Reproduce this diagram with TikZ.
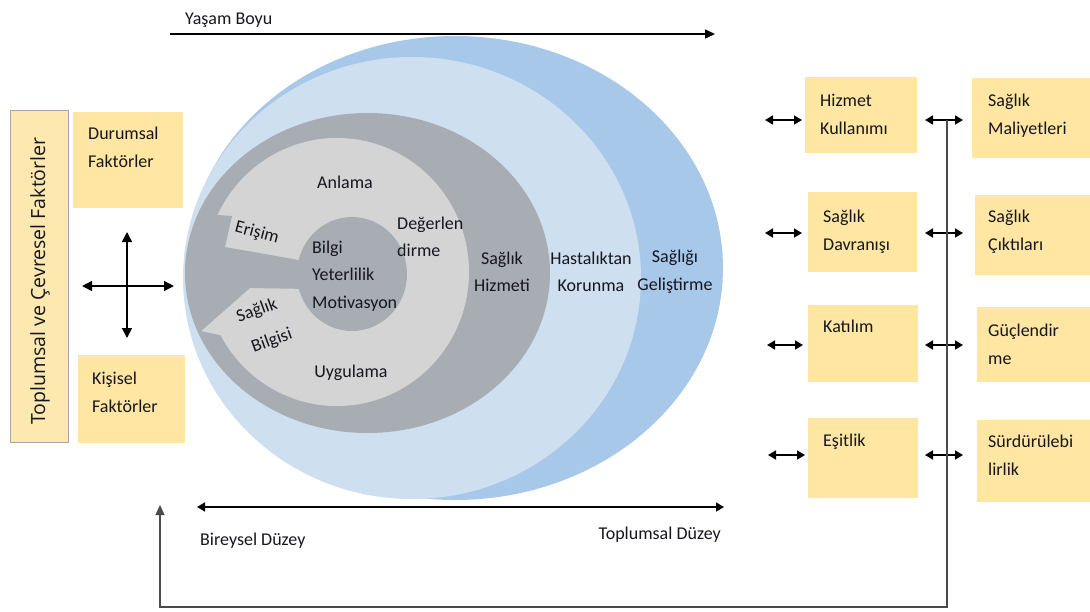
\documentclass[tikz,border=0pt]{standalone}
\usepackage{fontspec}
\setmainfont{Carlito}
\newfontfamily\sidefont{Open Sans}
\usetikzlibrary{arrows.meta}
\definecolor{boxyellow}{HTML}{FFE6A2}
\definecolor{sideyellow}{HTML}{FDE8B0}
\definecolor{blueout}{HTML}{A8C8E9}
\definecolor{bluein}{HTML}{CEDFF0}
\definecolor{greydark}{HTML}{A7ADB3}
\definecolor{greylight}{HTML}{D4D4D4}
\definecolor{ink}{HTML}{16161E}
\definecolor{linegrey}{HTML}{4A4A4A}
\tikzset{
  lbl/.style={font=\fontsize{18}{27.5}\selectfont, text=ink, inner sep=0pt, align=center},
  boxlbl/.style={lbl, align=left, anchor=north west},
  ybox/.style={fill=boxyellow, draw=none, inner sep=0pt, anchor=north west},
  dblarr/.style={line width=1.6pt, draw=black, {Triangle[length=8pt,width=9pt]}-{Triangle[length=8pt,width=9pt]}},
  crossarr/.style={line width=1.5pt, draw=black, {Triangle[length=10pt,width=10pt]}-{Triangle[length=10pt,width=10pt]}},
  onearr/.style={line width=1.4pt, draw=black, -{Triangle[length=10pt,width=9pt]}},
}
\begin{document}
\begin{tikzpicture}[x=1pt,y=-1pt]
\useasboundingbox (0,0) rectangle (1090,611);

% ---- nested levels ----
\fill[blueout] (455,268) ellipse [x radius=268pt, y radius=232pt];
\fill[bluein] (412,278) ellipse [x radius=229pt, y radius=221pt];
\fill[greydark] (367.5,273) ellipse [x radius=182.5pt, y radius=160pt];
\fill[greylight] (337,272) ellipse [x radius=132pt, y radius=134pt];
% pointed end of the lower arm
\fill[greylight] (201,331) -- (250,288) -- (270,330) -- (225,336) -- cycle;
% gap between the two arms, opening to the centre
\fill[greydark] (203,214) -- (232,216) -- (225,247) -- (310,262) -- (310,289)
  -- (250,288) -- (201,331) -- (203,300) -- cycle;
\fill[greydark] (352,274) ellipse [x radius=55pt, y radius=57pt];

% ---- level labels ----
\node[lbl] (anlama) at (345,182) {Anlama};
\node[lbl, align=left, anchor=west] (deger) at (397,237) {Değerlen\\dirme};
\node[lbl] (uygulama) at (351,373) {Uygulama};
\node[lbl, rotate=-15] (erisim) at (257,233) {Erişim};
\node[lbl, rotate=20] (saglik) at (257,311) {Sağlık};
\node[lbl, rotate=20] (bilgisi) at (272,341) {Bilgisi};
\node[lbl, align=left, anchor=west] (core) at (312,276) {Bilgi\\Yeterlilik\\Motivasyon};
\node[lbl] (hizmeti) at (502,272) {Sağlık\\Hizmeti};
\node[lbl] (korunma) at (591,272) {Hastalıktan\\Korunma};
\node[lbl] (gelistirme) at (675,272) {Sağlığı\\Geliştirme};

% ---- life course and level axes ----
\node[lbl, anchor=west] (yasam) at (185,20) {Yaşam Boyu};
\coordinate (ys) at (170,34);
\coordinate (ye) at (715,34);
\draw[onearr] (ys) -- (ye);

\coordinate (dl) at (197,507);
\coordinate (dr) at (724,507);
\draw[dblarr] (dl) -- (dr);
\node[lbl, anchor=west] (bireysel) at (200,541) {Bireysel Düzey};
\node[lbl, anchor=east] (toplumsal) at (721,535) {Toplumsal Düzey};

% ---- left side: factors ----
\node[ybox, fill=sideyellow, draw=gray!70, line width=0.8pt,
      minimum width=58pt, minimum height=332pt] (side) at (10,110) {};
\node[font=\sidefont\fontsize{19.5}{22}\selectfont, text=ink, rotate=90, inner sep=0pt]
  (sidelbl) at (40,281) {Toplumsal ve Çevresel Faktörler};

\node[ybox, minimum width=110pt, minimum height=96pt] (dur) at (73,112) {};
\node[boxlbl] (durlbl) at (88,127) {Durumsal\\Faktörler};
\node[ybox, minimum width=107pt, minimum height=88pt] (kis) at (78,355) {};
\node[boxlbl] (kislbl) at (92,372) {Kişisel\\Faktörler};

\coordinate (cu) at (127,232);
\coordinate (cd) at (127,338);
\coordinate (cl) at (82,286);
\coordinate (cr) at (174,286);
\draw[crossarr] (cu) -- (cd);
\draw[crossarr] (cl) -- (cr);

% ---- right side: outcomes ----
\node[ybox, minimum width=112pt, minimum height=76pt] (hk) at (805,77) {};
\node[boxlbl] (hklbl) at (820,94) {Hizmet\\Kullanımı};
\node[ybox, minimum width=118pt, minimum height=80pt] (sm) at (972,78) {};
\node[boxlbl] (smlbl) at (988,94) {Sağlık\\Maliyetleri};
\node[ybox, minimum width=109pt, minimum height=80pt] (sd) at (808,192) {};
\node[boxlbl] (sdlbl) at (823,210) {Sağlık\\Davranışı};
\node[ybox, minimum width=115pt, minimum height=80pt] (sc) at (975,195) {};
\node[boxlbl] (sclbl) at (988,210) {Sağlık\\Çıktıları};
\node[ybox, minimum width=110pt, minimum height=77pt] (kt) at (808,305) {};
\node[boxlbl] (ktlbl) at (823,320) {Katılım};
\node[ybox, minimum width=113pt, minimum height=75pt] (gu) at (977,307) {};
\node[boxlbl] (gulbl) at (988,324) {Güçlendir\\me};
\node[ybox, minimum width=110pt, minimum height=80pt] (es) at (808,418) {};
\node[boxlbl] (eslbl) at (823,434) {Eşitlik};
\node[ybox, minimum width=113pt, minimum height=82pt] (su) at (977,420) {};
\node[boxlbl] (sulbl) at (988,435) {Sürdürülebi\\lirlik};

% short links on both sides of the left column
\foreach \n/\y/\a/\b in {1/120/765/802, 2/233/765/802, 3/345/767/803, 4/455/768/805}{
  \coordinate (la\n) at (\a,\y);
  \coordinate (lb\n) at (\b,\y);
  \draw[dblarr] (la\n) -- (lb\n);
  \coordinate (ma\n) at (925,\y);
  \coordinate (mb\n) at (963,\y);
  \draw[dblarr] (ma\n) -- (mb\n);
}

% feedback loop back to the start
\coordinate (fbtop) at (947,120);
\coordinate (fbcorner) at (947,607);
\coordinate (fbleft) at (160,607);
\coordinate (fbend) at (160,505);
\draw[line width=1.4pt, draw=linegrey, -{Triangle[length=10pt,width=9pt]}]
  (fbtop) -- (fbcorner) -- (fbleft) -- (fbend);
\end{tikzpicture}
\end{document}
